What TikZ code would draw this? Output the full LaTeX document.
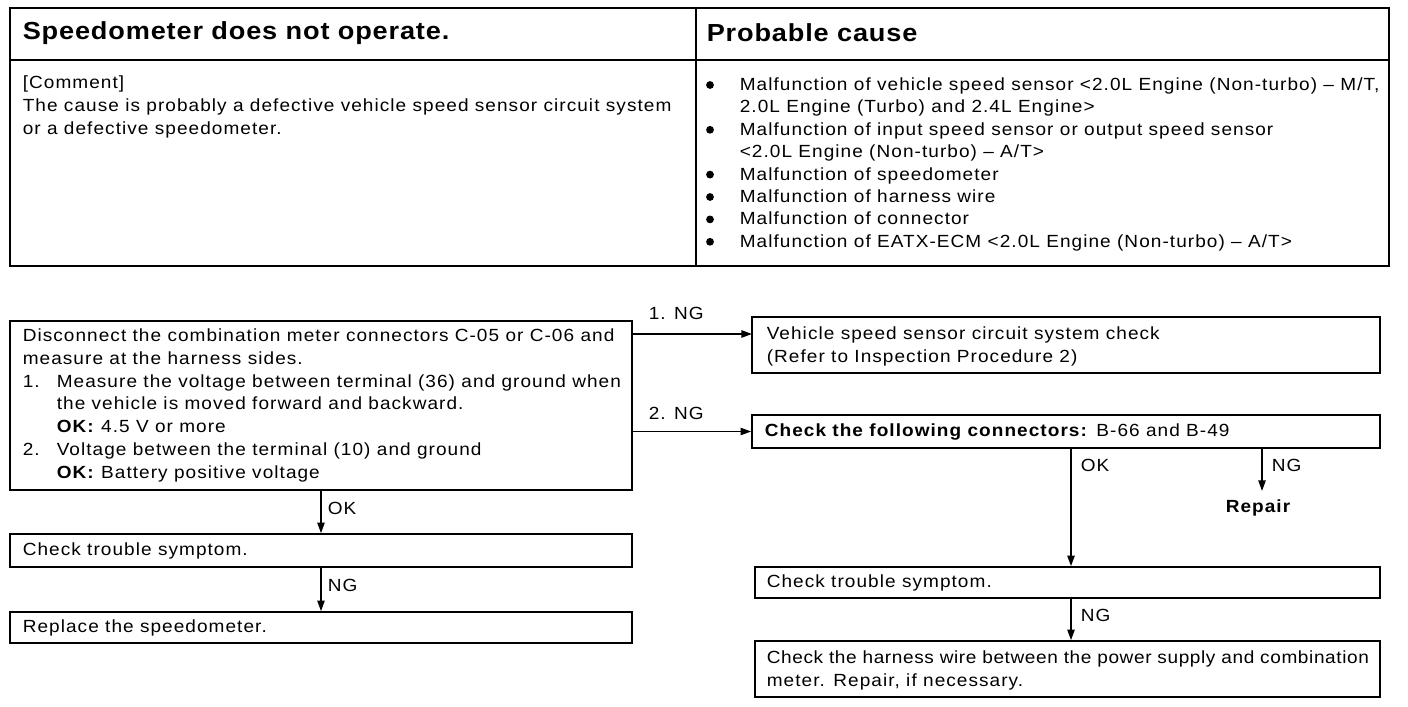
\documentclass[tikz,border=0pt]{standalone}
\usepackage{fontspec}
\setmainfont{Liberation Sans}[FakeStretch=1.08,LetterSpace=6]
\newfontfamily\hdrfam{Liberation Sans}[FakeStretch=1.1,LetterSpace=3.4]
\usetikzlibrary{arrows.meta,fit}
\newcommand\bodyfont{\fontsize{13.2}{17.1}\selectfont}
\newcommand\listfont{\fontsize{13.2}{16.8}\selectfont}
\newcommand\hdrfont{\hdrfam\fontsize{18.5}{22}\selectfont\bfseries}
\newcommand\numbox[1]{\makebox[25.5pt][l]{#1}}
\newcommand\indentx{\hspace*{25.5pt}}
\begin{document}
\begin{tikzpicture}[x=0.75pt,y=-0.75pt,line width=1.2pt,
  box/.style={draw,inner sep=0pt},
  txt/.style={anchor=north west,inner sep=0pt,align=left,font=\bodyfont},
  ltxt/.style={anchor=west,inner sep=0pt,font=\bodyfont},
  hdr/.style={anchor=west,inner sep=0pt,font=\hdrfont},
  lbl/.style={anchor=west,inner sep=0pt,font=\bodyfont},
  arr/.style={-{Triangle[length=8pt,width=5.5pt]}}]
\useasboundingbox (0,0) rectangle (1408,706);
% top table
\node[box,fit={(10,8)(1389,266)}] (tbl) {};
\coordinate (hl) at (0,60);
\coordinate (vl) at (696,0);
\draw (tbl.west |- hl) -- (tbl.east |- hl);
\draw (tbl.north -| vl) -- (tbl.south -| vl);
\node[hdr] (h1) at (22,33) {Speedometer does not operate.};
\node[hdr] (h2) at (706,33) {Probable cause};
\node[txt] (cm) at (22,75) {[Comment]\\The cause is probably a defective vehicle speed sensor circuit system\\or a defective speedometer.};
\node[txt,font=\listfont] (pc) at (739,77) {Malfunction of vehicle speed sensor <2.0L Engine (Non-turbo) – M/T,\\2.0L Engine (Turbo) and 2.4L Engine>\\Malfunction of input speed sensor or output speed sensor\\<2.0L Engine (Non-turbo) – A/T>\\Malfunction of speedometer\\Malfunction of harness wire\\Malfunction of connector\\Malfunction of EATX-ECM <2.0L Engine (Non-turbo) – A/T>};
\foreach \yy in {85,129.8,174.6,197,219.4,241.8}{\fill (710,\yy) circle[radius=3.9];}
% flowchart boxes
\node[box,fit={(10,321)(632,490)}] (A) {};
\node[box,fit={(752,317)(1380,373)}] (B) {};
\node[box,fit={(752,415)(1380,448)}] (C) {};
\node[box,fit={(755,567)(1380,598)}] (D) {};
\node[box,fit={(755,641)(1380,697)}] (E) {};
\node[box,fit={(10,534)(632,567)}] (F) {};
\node[box,fit={(10,612)(632,643)}] (G) {};
% texts
\node[txt] (at) at (22,328) {Disconnect the combination meter connectors C-05 or C-06 and\\measure at the harness sides.\\\numbox{1.}Measure the voltage between terminal (36) and ground when\\\indentx the vehicle is moved forward and backward.\\\indentx\textbf{OK:} 4.5 V or more\\\numbox{2.}Voltage between the terminal (10) and ground\\\indentx\textbf{OK:} Battery positive voltage};
\node[txt] (bt) at (766,326) {Vehicle speed sensor circuit system check\\(Refer to Inspection Procedure 2)};
\node[ltxt] (ct) at (764,432) {\textbf{Check the following connectors:} B-66 and B-49};
\node[ltxt] (dt) at (766,583) {Check trouble symptom.};
\node[txt] (et) at (766,650) {{\addfontfeature{LetterSpace=3.5}Check the harness wire between the power supply and combination}\\meter. Repair, if necessary.};
\node[ltxt] (ft) at (22,551) {Check trouble symptom.};
\node[ltxt] (gt) at (22,628) {Replace the speedometer.};
\node[anchor=center,inner sep=6pt,font=\bodyfont\bfseries] (rep) at (1258,508) {Repair};
% connectors
\coordinate (b1) at (752,334);
\coordinate (okx) at (1071,0);
\coordinate (ngx) at (1262,0);
\draw[arr] (A.east |- b1) -- (b1);
\draw[arr] (A.east |- C.west) -- (C.west);
\draw[arr] (A.south) -- (F.north);
\draw[arr] (F.south) -- (G.north);
\draw[arr] (C.south -| okx) -- (D.north -| okx);
\draw[arr] (C.south -| ngx) -- (rep.north -| ngx);
\draw[arr] (D.south -| okx) -- (E.north -| okx);
% labels
\node[lbl] (l1) at (648,313) {1. NG};
\node[lbl] (l2) at (648,413) {2. NG};
\node[lbl] (l3) at (327,508) {OK};
\node[lbl] (l4) at (327,585) {NG};
\node[lbl] (l5) at (1080,465) {OK};
\node[lbl] (l6) at (1271,465) {NG};
\node[lbl] (l7) at (1080,615) {NG};
\end{tikzpicture}
\end{document}
